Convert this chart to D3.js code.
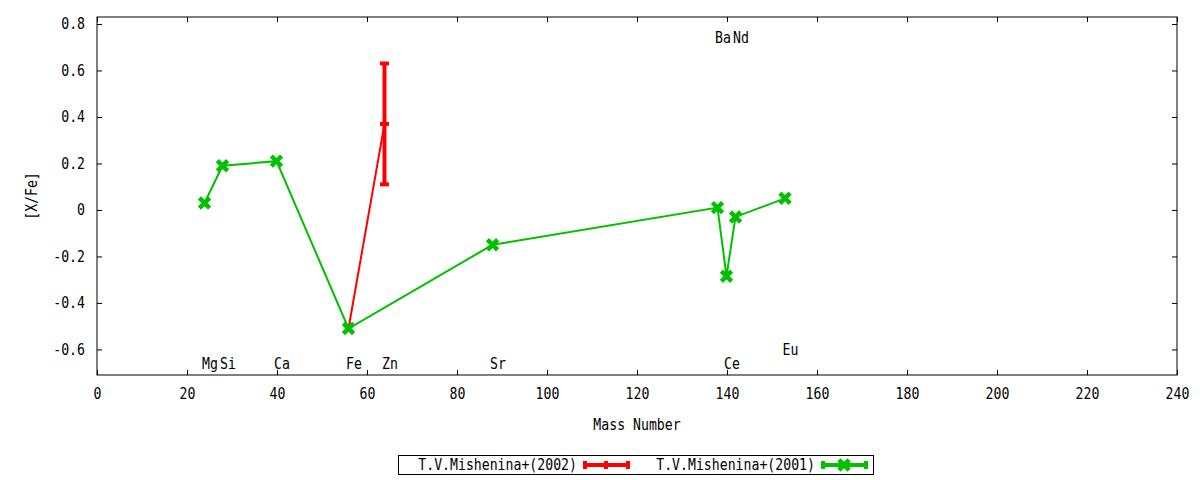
<!DOCTYPE html>
<html>
<head>
<meta charset="utf-8">
<script src="https://cdn.jsdelivr.net/npm/d3@7"></script>
<style>
  body { margin: 0; background: #fff; }
  text { font-family: "DejaVu Sans Mono", monospace; font-size: 15px; fill: #000; }
</style>
</head>
<body>
<div id="wrapper"></div>
<script>
// data
const mass2001 = [24, 28, 40, 56, 88, 138, 140, 142, 153]
const xfe2001 = [0.03, 0.19, 0.21, -0.51, -0.15, 0.01, -0.285, -0.03, 0.05]

const mass2002 = [56, 64]
const xfe2002 = [-0.51, 0.37]
const err2002 = [0, 0.26]

const elementNames = ["Mg", "Si", "Ca", "Fe", "Zn", "Sr", "Ba", "Nd", "Ce", "Eu"]
const elementMass = [24, 28, 40, 56, 64, 88, 138, 142, 140, 153]
const elementLabelY = [-0.66, -0.66, -0.66, -0.66, -0.66, -0.66, 0.74, 0.74, -0.66, -0.6]

const xTicks = d3.range(0, 241, 20)
const yTicks = [-0.6, -0.4, -0.2, 0, 0.2, 0.4, 0.6, 0.8]
const seriesNames = ["T.V.Mishenina+(2002)", "T.V.Mishenina+(2001)"]

// chart dimensions
let dimensions = {
  width: 1200,
  height: 480,
  margin: { top: 17, right: 23, bottom: 105, left: 97 },
}
dimensions.boundedWidth = dimensions.width - dimensions.margin.left - dimensions.margin.right
dimensions.boundedHeight = dimensions.height - dimensions.margin.top - dimensions.margin.bottom

const wrapper = d3.select("#wrapper")
  .append("svg")
  .attr("width", dimensions.width)
  .attr("height", dimensions.height)

const bounds = wrapper.append("g")
  .attr("transform", `translate(${dimensions.margin.left},${dimensions.margin.top})`)

// the reference font is a narrow mono, squeeze DejaVu Sans Mono horizontally
const squeeze = 0.88
function narrow(sel) {
  sel.each(function () {
    const t = d3.select(this)
    const x = +t.attr("x") || 0
    t.attr("x", x / squeeze)
      .attr("transform", (t.attr("transform") || "") + ` scale(${squeeze},1)`)
  })
}

// scales
const xScale = d3.scaleLinear()
  .domain([0, 240])
  .range([0, dimensions.boundedWidth])

const yScale = d3.scaleLinear()
  .domain([-0.71, 0.83])
  .range([dimensions.boundedHeight, 0])

const fmtY = d => String(Math.round(d * 10) / 10)

// axes, ticks pointing inward and mirrored
const styleAxis = g => {
  g.select(".domain").remove()
  g.selectAll("line").attr("stroke", "#000")
}
bounds.append("g")
  .attr("transform", `translate(0,${dimensions.boundedHeight})`)
  .call(d3.axisBottom(xScale).tickValues(xTicks).tickSize(-5).tickPadding(13))
  .call(styleAxis)
  .call(g => g.selectAll("text").attr("font-size", 15).call(narrow))
bounds.append("g")
  .call(d3.axisTop(xScale).tickValues(xTicks).tickSize(-5).tickFormat(""))
  .call(styleAxis)
bounds.append("g")
  .call(d3.axisLeft(yScale).tickValues(yTicks).tickSize(-5).tickPadding(12).tickFormat(fmtY))
  .call(styleAxis)
  .call(g => g.selectAll("text").attr("font-size", 15).call(narrow))
bounds.append("g")
  .attr("transform", `translate(${dimensions.boundedWidth},0)`)
  .call(d3.axisRight(yScale).tickValues(yTicks).tickSize(-5).tickFormat(""))
  .call(styleAxis)

bounds.append("rect")
  .attr("width", dimensions.boundedWidth)
  .attr("height", dimensions.boundedHeight)
  .attr("fill", "none")
  .attr("stroke", "#000")
  .attr("stroke-width", 1)

// axis titles
wrapper.append("text")
  .attr("x", dimensions.margin.left + dimensions.boundedWidth / 2)
  .attr("y", 430)
  .attr("text-anchor", "middle")
  .text("Mass Number")
  .call(narrow)
wrapper.append("text")
  .attr("transform", `translate(37,${dimensions.margin.top + dimensions.boundedHeight / 2}) rotate(-90)`)
  .attr("text-anchor", "middle")
  .text("[X/Fe]")
  .call(narrow)

const red = "#ff0000"
const green = "#00c000"

// 2002 series: line + error bars + plus marker
const data2002 = mass2002.map((m, i) => ({ m, v: xfe2002[i], e: err2002[i] }))
const line = d3.line().x(d => xScale(d.m) - 0.5).y(d => yScale(d.v))
bounds.append("path")
  .datum(data2002)
  .attr("d", line)
  .attr("fill", "none")
  .attr("stroke", red)
  .attr("stroke-width", 2)

const errs = bounds.append("g").selectAll("g")
  .data(data2002.filter(d => d.e > 0))
  .join("g")
  .attr("stroke", red)
  .attr("stroke-width", 4)
  .attr("transform", "translate(-0.5,0)")
errs.append("line")
  .attr("x1", d => xScale(d.m)).attr("x2", d => xScale(d.m))
  .attr("y1", d => yScale(d.v - d.e)).attr("y2", d => yScale(d.v + d.e))
errs.selectAll(".cap")
  .data(d => [d.v - d.e, d.v, d.v + d.e].map(v => ({ m: d.m, v })))
  .join("line")
  .attr("class", "cap")
  .attr("x1", d => xScale(d.m) - 4.5).attr("x2", d => xScale(d.m) + 4.5)
  .attr("y1", d => yScale(d.v)).attr("y2", d => yScale(d.v))

// 2001 series
const data2001 = mass2001.map((m, i) => ({ m, v: xfe2001[i] }))
bounds.append("path")
  .datum(data2001)
  .attr("d", line)
  .attr("fill", "none")
  .attr("stroke", green)
  .attr("stroke-width", 2)

const times = d3.symbol(d3.symbolTimes, 70)
bounds.append("g").selectAll("path")
  .data(data2001)
  .join("path")
  .attr("transform", d => `translate(${xScale(d.m) - 0.5},${yScale(d.v)})`)
  .attr("d", times)
  .attr("fill", "none")
  .attr("stroke", green)
  .attr("stroke-width", 4.5)

// element labels
bounds.append("g").selectAll("text")
  .data(elementNames)
  .join("text")
  .attr("x", (d, i) => xScale(elementMass[i]) - 3)
  .attr("y", (d, i) => yScale(elementLabelY[i]))
  .attr("dy", "0.35em")
  .text(d => d)
  .call(narrow)

// legend
const legend = wrapper.append("g")
legend.append("rect")
  .attr("x", 398.5).attr("y", 455.5)
  .attr("width", 475).attr("height", 19)
  .attr("fill", "none").attr("stroke", "#000")

const legendItems = [
  { name: seriesNames[0], color: red, tx: 577, sx: 585 },
  { name: seriesNames[1], color: green, tx: 815, sx: 823 },
]
legendItems.forEach(item => {
  legend.append("text")
    .attr("x", item.tx).attr("y", 465)
    .attr("dy", "0.35em")
    .attr("text-anchor", "end")
    .text(item.name)
    .call(narrow)
  const g = legend.append("g").attr("stroke", item.color).attr("stroke-width", 4)
  g.append("line").attr("x1", item.sx).attr("x2", item.sx + 43).attr("y1", 465).attr("y2", 465)
  g.append("line").attr("x1", item.sx).attr("x2", item.sx).attr("y1", 461).attr("y2", 469)
  g.append("line").attr("x1", item.sx + 43).attr("x2", item.sx + 43).attr("y1", 461).attr("y2", 469)
})
legend.append("line")
  .attr("x1", 606).attr("x2", 606).attr("y1", 461).attr("y2", 469)
  .attr("stroke", red).attr("stroke-width", 4)
legend.append("path")
  .attr("transform", "translate(844,465)")
  .attr("d", times)
  .attr("fill", "none")
  .attr("stroke", green)
  .attr("stroke-width", 4.5)
</script>
</body>
</html>
